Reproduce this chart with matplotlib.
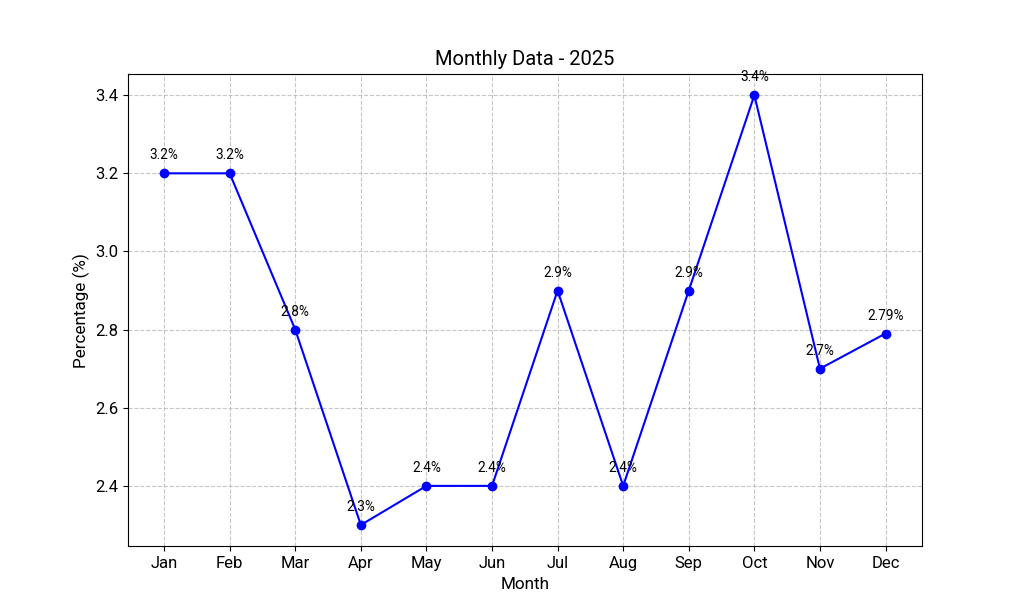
import matplotlib
matplotlib.use("Agg")
import matplotlib.pyplot as plt

plt.rcParams['font.family'] = ['Roboto', 'DejaVu Sans']

months = ["Jan", "Feb", "Mar", "Apr", "May", "Jun", "Jul", "Aug", "Sep", "Oct", "Nov", "Dec"]
values = [3.2, 3.2, 2.8, 2.3, 2.4, 2.4, 2.9, 2.4, 2.9, 3.4, 2.7, 2.79]
labels = ["3.2%", "3.2%", "2.8%", "2.3%", "2.4%", "2.4%", "2.9%", "2.4%", "2.9%", "3.4%", "2.7%", "2.79%"]

fig = plt.figure(figsize=(10.24, 6.14), dpi=100)
ax = fig.add_subplot(111)

ax.plot(months, values, marker='o', color='blue', linewidth=1.5, markersize=6)
for i in range(len(months)):
    ax.annotate(labels[i], (months[i], values[i]), textcoords="offset points",
                xytext=(0, 10), ha='center', fontsize=9.8)

ax.set_title("Monthly Data - 2025", fontsize=14.5)
ax.set_xlabel("Month", fontsize=12.3)
ax.set_ylabel("Percentage (%)", fontsize=12.3)
ax.tick_params(labelsize=12)
ax.grid(True, linestyle='--', alpha=0.7)

fig.savefig("out.png", dpi=100)
